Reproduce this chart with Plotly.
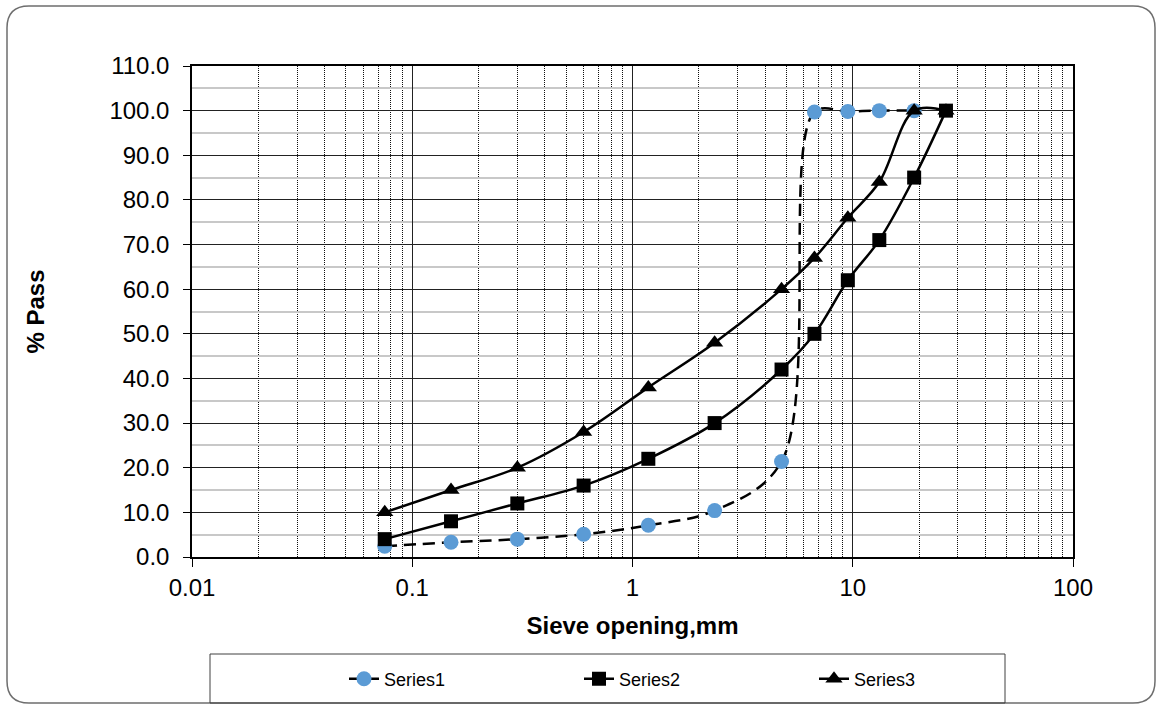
import plotly.graph_objects as go

# Sieve openings (mm) and percent passing for each grading
sieve_s1 = [0.075, 0.15, 0.3, 0.6, 1.18, 2.36, 4.75, 6.7, 9.5, 13.2, 19]
pass_s1 = [2.4, 3.3, 4.0, 5.1, 7.1, 10.4, 21.4, 99.7, 99.8, 100.0, 100.0]

sieve_s2 = [0.075, 0.15, 0.3, 0.6, 1.18, 2.36, 4.75, 6.7, 9.5, 13.2, 19, 26.5]
pass_s2 = [4, 8, 12, 16, 22, 30, 42, 50, 62, 71, 85, 100]

sieve_s3 = [0.075, 0.15, 0.3, 0.6, 1.18, 2.36, 4.75, 6.7, 9.5, 13.2, 19, 26.5]
pass_s3 = [10, 15, 20, 28, 38, 48, 60, 67, 76, 84, 100, 100]

x_ticks = [0.01, 0.1, 1, 10, 100]
x_tick_text = ["0.01", "0.1", "1", "10", "100"]

FONT = "Liberation Sans, Arial, sans-serif"
W, H = 1158, 706
L, R, T, B = 192, 85, 66, 149
PW, PH = W - L - R, H - T - B


def px(x):
    return (x - L) / PW


def py(y):
    return (H - B - y) / PH


fig = go.Figure()

fig.add_trace(go.Scatter(
    x=sieve_s1, y=pass_s1, name="Series1", mode="lines+markers",
    line=dict(color="black", width=2.5, dash="12px,7px", shape="spline", smoothing=1),
    marker=dict(symbol="circle", size=15, color="#5b9bd5"),
))
fig.add_trace(go.Scatter(
    x=sieve_s2, y=pass_s2, name="Series2", mode="lines+markers",
    line=dict(color="black", width=2.5, shape="spline", smoothing=1),
    marker=dict(symbol="square", size=14, color="black"),
))
fig.add_trace(go.Scatter(
    x=sieve_s3, y=pass_s3, name="Series3", mode="lines+markers",
    line=dict(color="black", width=2.5, shape="spline", smoothing=1),
    marker=dict(symbol="triangle-up", size=15, color="black"),
))

# Outer rounded chart border
x0, y0, x1, y1, r = 7, 6, 1155, 703, 22
path = (
    f"M {px(x0 + r)},{py(y0)} L {px(x1 - r)},{py(y0)} "
    f"Q {px(x1)},{py(y0)} {px(x1)},{py(y0 + r)} "
    f"L {px(x1)},{py(y1 - r)} Q {px(x1)},{py(y1)} {px(x1 - r)},{py(y1)} "
    f"L {px(x0 + r)},{py(y1)} Q {px(x0)},{py(y1)} {px(x0)},{py(y1 - r)} "
    f"L {px(x0)},{py(y0 + r)} Q {px(x0)},{py(y0)} {px(x0 + r)},{py(y0)} Z"
)
shapes = [
    dict(type="path", path=path, xref="paper", yref="paper",
         line=dict(color="#6e6e6e", width=1.5), layer="below"),
    # legend frame
    dict(type="rect", xref="paper", yref="paper",
         x0=px(210), x1=px(1005), y0=py(654), y1=py(703),
         line=dict(color="#404040", width=1)),
]

fig.update_layout(
    width=W, height=H,
    margin=dict(l=L, r=R, t=T, b=B, autoexpand=False),
    paper_bgcolor="white", plot_bgcolor="white",
    font=dict(family=FONT, color="black"),
    shapes=shapes,
    showlegend=True,
    legend=dict(
        orientation="h", x=px(344), xanchor="left", y=py(679), yanchor="middle",
        font=dict(size=18, family=FONT), entrywidth=190, entrywidthmode="pixels",
        bgcolor="rgba(0,0,0,0)",
    ),
    xaxis=dict(
        type="log", range=[-2, 2],
        tickmode="array", tickvals=x_ticks, ticktext=x_tick_text,
        ticks="outside", ticklen=8, tickcolor="black",
        tickfont=dict(size=24, family=FONT), ticklabelstandoff=0,
        showgrid=True, gridcolor="#222222", gridwidth=1,
        showline=True, linecolor="black", linewidth=1.5, mirror=True,
        minor=dict(dtick="D1", showgrid=True, gridcolor="#111111",
                   griddash="1px,1px", gridwidth=1, ticks=""),
        title=dict(text="<b>Sieve opening,mm</b>", font=dict(size=24, family=FONT),
                   standoff=18),
        zeroline=False,
    ),
    yaxis=dict(
        range=[0, 110], dtick=10, tick0=0, tickformat=".1f",
        ticks="outside", ticklen=7, tickcolor="black",
        tickfont=dict(size=24, family=FONT), ticklabelstandoff=9,
        showgrid=True, gridcolor="#222222", gridwidth=1.2,
        showline=True, linecolor="black", linewidth=1.5, mirror=True,
        minor=dict(dtick=5, showgrid=True, gridcolor="#c8c8c8", gridwidth=1.5, ticks=""),
        title=dict(text="<b>% Pass</b>", font=dict(size=24, family=FONT), standoff=58),
        zeroline=False,
    ),
)

fig.write_html("out.html")
